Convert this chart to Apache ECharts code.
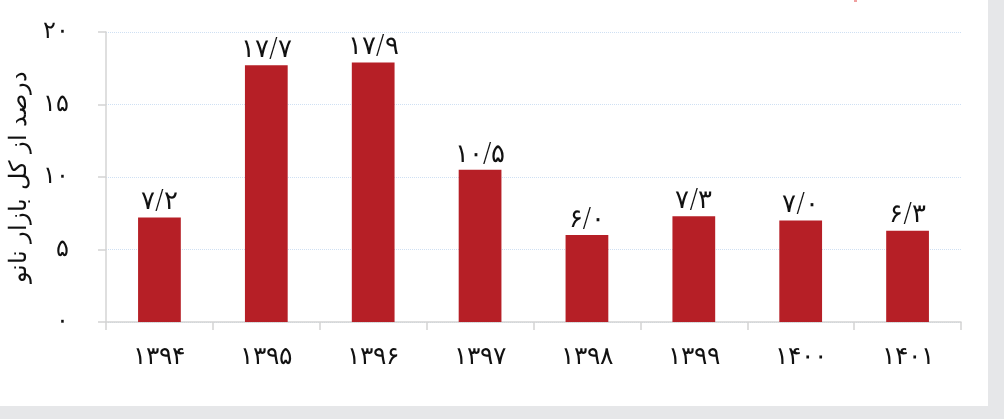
<!DOCTYPE html>
<html>
<head>
<meta charset="utf-8">
<script src="https://cdn.jsdelivr.net/npm/echarts@6/dist/echarts.min.js"></script>
<style>
html,body{margin:0;padding:0;background:#fff;}
#c{width:1004px;height:419px;}
</style>
</head>
<body>
<div id="c"></div>
<script>
const categories = ['۱۳۹۴','۱۳۹۵','۱۳۹۶','۱۳۹۷','۱۳۹۸','۱۳۹۹','۱۴۰۰','۱۴۰۱'];
const values = [7.2, 17.7, 17.9, 10.5, 6.0, 7.3, 7.0, 6.3];
const valueLabels = ['۷/۲','۱۷/۷','۱۷/۹','۱۰/۵','۶/۰','۷/۳','۷/۰','۶/۳'];
const yTickValues = [0, 5, 10, 15, 20];
const yTickLabels = ['۰','۵','۱۰','۱۵','۲۰'];
const yAxisName = 'درصد از کل بازار نانو';

const FONT = '"DejaVu Sans", sans-serif';
const chart = echarts.init(document.getElementById('c'), null, {renderer: 'canvas'});
chart.setOption({
  backgroundColor: '#ffffff',
  animation: false,
  grid: {left: 106, right: 43, top: 32, bottom: 97, containLabel: false},
  xAxis: {
    type: 'category',
    data: categories,
    axisLine: {lineStyle: {color: '#d4d4d4', width: 1.5}},
    axisTick: {show: true, length: 8, lineStyle: {color: '#d4d4d4', width: 1.5}},
    axisLabel: {color: '#111', fontSize: 25, fontWeight: 200, fontFamily: FONT, margin: 23}
  },
  yAxis: {
    type: 'value',
    min: 0, max: 20, interval: 5,
    name: yAxisName,
    nameLocation: 'middle',
    nameGap: 70,
    nameTextStyle: {color: '#111', fontSize: 24, fontWeight: 200, fontFamily: FONT},
    axisLine: {show: true, lineStyle: {color: '#d4d4d4', width: 1.5}},
    axisTick: {show: true, length: 8, lineStyle: {color: '#d4d4d4', width: 1.5}},
    axisLabel: {
      color: '#111', fontSize: 24, fontWeight: 200, fontFamily: FONT, margin: 37,
      formatter: function (v) { const i = yTickValues.indexOf(v); return i >= 0 ? yTickLabels[i] : ''; }
    },
    splitLine: {show: true, lineStyle: {color: '#cfe0f3', type: 'dotted', width: 1}}
  },
  series: [{
    type: 'bar',
    data: values,
    barWidth: '40%',
    itemStyle: {color: '#b61f26'},
    label: {
      show: true, position: 'top', distance: 2,
      color: '#111', fontSize: 26, fontWeight: 200, fontFamily: FONT,
      formatter: function (p) { return valueLabels[p.dataIndex]; }
    }
  }],
  graphic: [
    {type: 'rect', shape: {x: 988, y: 0, width: 16, height: 419}, style: {fill: '#e6e7e9'}, silent: true},
    {type: 'rect', shape: {x: 0, y: 406, width: 1004, height: 13}, style: {fill: '#e6e7e9'}, silent: true},
    {type: 'rect', shape: {x: 854, y: 0, width: 3, height: 2}, style: {fill: '#f0a0a0'}, silent: true}
  ]
});
</script>
</body>
</html>
